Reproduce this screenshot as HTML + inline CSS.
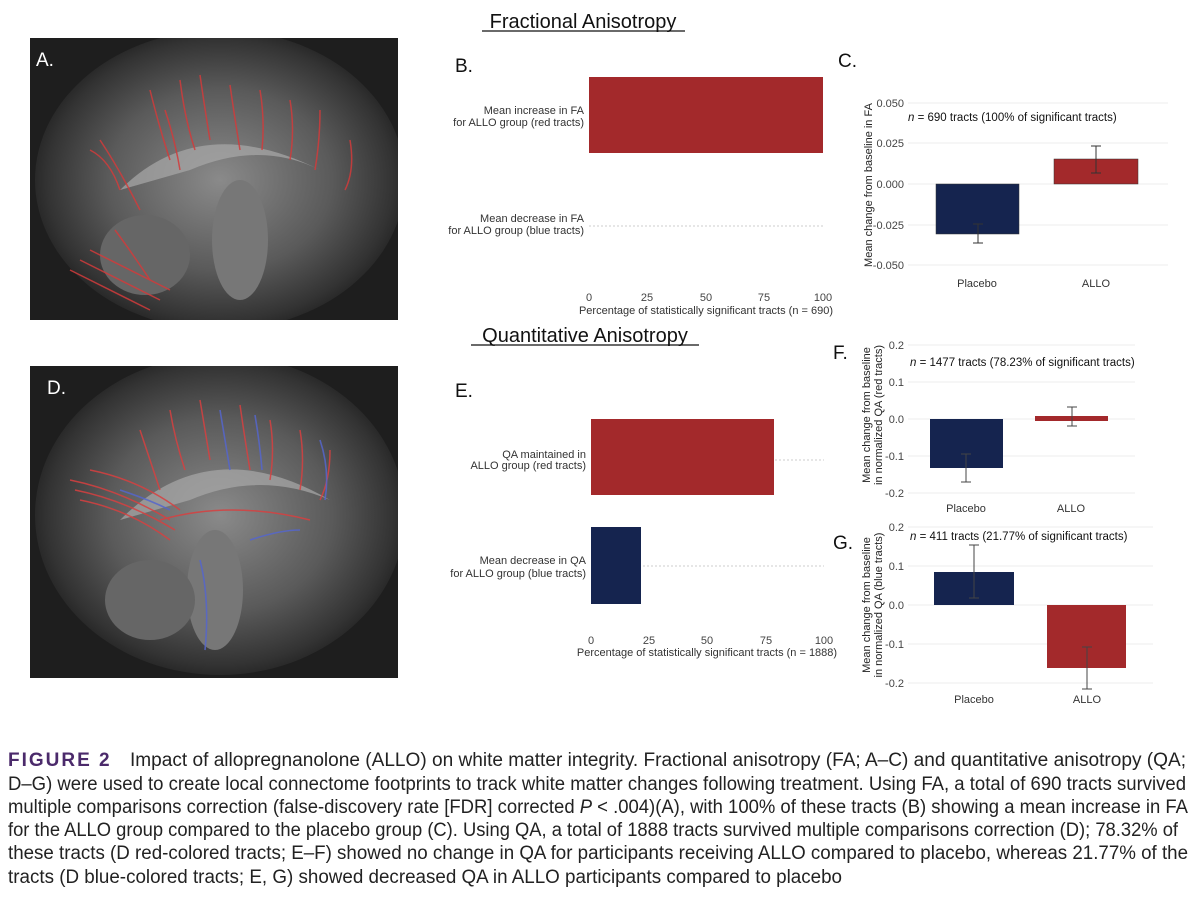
<!DOCTYPE html>
<html><head><meta charset="utf-8"><style>
body{margin:0;background:#fff;width:1200px;height:903px;overflow:hidden}
svg{display:block}
.ax{font-family:"Liberation Sans",sans-serif;font-size:11px;fill:#444}
.lb{font-family:"Liberation Sans",sans-serif;font-size:11px;fill:#333}
.cap{font-family:"Liberation Sans",sans-serif;font-size:19px;fill:#222}
.let{font-family:"Liberation Sans",sans-serif;font-size:19px;fill:#111}
</style></head><body>
<svg width="1200" height="903" viewBox="0 0 1200 903">
<defs>
<radialGradient id="br" cx="0.5" cy="0.5" r="0.55">
<stop offset="0" stop-color="#8a8a8a"/><stop offset="0.55" stop-color="#5a5a5a"/><stop offset="0.85" stop-color="#333"/><stop offset="1" stop-color="#1a1a1a"/>
</radialGradient>
<clipPath id="ca"><rect x="30" y="38" width="368" height="282"/></clipPath>
<clipPath id="cd"><rect x="30" y="366" width="368" height="312"/></clipPath>
</defs>
<!-- Titles -->
<text x="583" y="28" text-anchor="middle" font-family="Liberation Sans,sans-serif" font-size="20" fill="#111">Fractional Anisotropy</text>
<line x1="482" y1="31" x2="685" y2="31" stroke="#111" stroke-width="1.2"/>
<text x="585" y="342" text-anchor="middle" font-family="Liberation Sans,sans-serif" font-size="20" fill="#111">Quantitative Anisotropy</text>
<line x1="471" y1="345" x2="699" y2="345" stroke="#111" stroke-width="1.2"/>

<!-- Brain A -->
<rect x="30" y="38" width="368" height="282" fill="#1e1e1e"/>
<g clip-path="url(#ca)">
<ellipse cx="220" cy="180" rx="185" ry="150" fill="url(#br)"/>
<path d="M120 190 Q200 110 320 170 Q260 140 190 170 Z" fill="#aaa" opacity="0.7"/>
<ellipse cx="240" cy="240" rx="28" ry="60" fill="#777"/>
<ellipse cx="145" cy="255" rx="45" ry="40" fill="#666"/>
<g stroke="#d23b3b" stroke-width="1.5" fill="none" opacity="0.85">
<path d="M100 140 Q120 170 140 210"/><path d="M150 90 Q160 130 170 160"/><path d="M180 80 Q185 120 195 150"/><path d="M200 75 Q205 110 210 140"/><path d="M230 85 Q235 120 240 150"/><path d="M260 90 Q265 120 262 150"/><path d="M290 100 Q295 130 290 160"/><path d="M320 110 Q320 140 315 170"/><path d="M90 150 Q110 160 120 190"/><path d="M80 260 Q120 280 160 300"/><path d="M70 270 Q110 290 150 310"/><path d="M90 250 Q130 270 170 290"/><path d="M115 230 Q130 250 150 280"/><path d="M350 140 Q355 170 345 190"/><path d="M165 110 Q175 140 180 170"/>
</g>
</g>
<text class="let" x="36" y="66" style="fill:#fff">A.</text>

<!-- Brain D -->
<rect x="30" y="366" width="368" height="312" fill="#1e1e1e"/>
<g clip-path="url(#cd)">
<ellipse cx="220" cy="515" rx="185" ry="160" fill="url(#br)"/>
<path d="M120 520 Q210 430 330 500 Q260 470 190 500 Z" fill="#aaa" opacity="0.7"/>
<ellipse cx="215" cy="590" rx="28" ry="60" fill="#777"/>
<ellipse cx="150" cy="600" rx="45" ry="40" fill="#666"/>
<g stroke="#d84040" stroke-width="1.5" fill="none" opacity="0.85">
<path d="M70 480 Q120 490 170 520"/><path d="M75 490 Q125 500 175 530"/><path d="M80 500 Q130 510 170 540"/><path d="M90 470 Q140 480 180 510"/><path d="M140 430 Q150 460 160 490"/><path d="M170 410 Q175 440 185 470"/><path d="M200 400 Q205 430 210 460"/><path d="M240 405 Q245 440 250 470"/><path d="M270 420 Q275 450 270 480"/><path d="M300 430 Q305 460 300 490"/><path d="M330 450 Q330 480 320 500"/><path d="M160 520 Q230 500 310 520"/>
</g>
<g stroke="#5566cc" stroke-width="1.6" fill="none" opacity="0.85">
<path d="M220 410 Q225 440 230 470"/><path d="M255 415 Q260 445 262 470"/><path d="M320 440 Q330 470 325 500"/><path d="M200 560 Q210 600 205 650"/><path d="M250 540 Q280 530 300 530"/><path d="M120 490 Q150 500 170 510"/>
</g>
</g>
<text class="let" x="47" y="394" style="fill:#fff">D.</text>

<!-- Letters -->
<text class="let" x="455" y="72">B.</text>
<text class="let" x="838" y="67">C.</text>
<text class="let" x="455" y="397">E.</text>
<text class="let" x="833" y="359">F.</text>
<text class="let" x="833" y="549">G.</text>

<!-- Panel B -->
<line x1="589" y1="117" x2="823" y2="117" stroke="#ccc" stroke-dasharray="2,2"/>
<line x1="589" y1="226" x2="823" y2="226" stroke="#ccc" stroke-dasharray="2,2"/>
<rect x="589" y="77" width="234" height="76" fill="#a3292b"/>
<g class="lb" text-anchor="end">
<text x="584" y="114">Mean increase in FA</text><text x="584" y="126">for ALLO group (red tracts)</text>
<text x="584" y="222">Mean decrease in FA</text><text x="584" y="234">for ALLO group (blue tracts)</text>
</g>
<g class="ax" text-anchor="middle">
<text x="589" y="301">0</text><text x="647" y="301">25</text><text x="706" y="301">50</text><text x="764" y="301">75</text><text x="823" y="301">100</text>
<text x="706" y="314" style="fill:#333">Percentage of statistically significant tracts (n = 690)</text>
</g>

<!-- Panel E -->
<line x1="591" y1="460" x2="824" y2="460" stroke="#ccc" stroke-dasharray="2,2"/>
<line x1="591" y1="566" x2="824" y2="566" stroke="#ccc" stroke-dasharray="2,2"/>
<rect x="591" y="419" width="183" height="76" fill="#a3292b"/>
<rect x="591" y="527" width="50" height="77" fill="#15244f"/>
<g class="lb" text-anchor="end">
<text x="586" y="458">QA maintained in</text><text x="586" y="469">ALLO group (red tracts)</text>
<text x="586" y="564">Mean decrease in QA</text><text x="586" y="577">for ALLO group (blue tracts)</text>
</g>
<g class="ax" text-anchor="middle">
<text x="591" y="644">0</text><text x="649" y="644">25</text><text x="707" y="644">50</text><text x="766" y="644">75</text><text x="824" y="644">100</text>
<text x="707" y="656" style="fill:#333">Percentage of statistically significant tracts (n = 1888)</text>
</g>

<!-- Panel C -->
<g stroke="#eee"><line x1="908" y1="103" x2="1168" y2="103"/><line x1="908" y1="143" x2="1168" y2="143"/><line x1="908" y1="184" x2="1168" y2="184"/><line x1="908" y1="225" x2="1168" y2="225"/><line x1="908" y1="265" x2="1168" y2="265"/></g>
<g class="ax" text-anchor="end"><text x="904" y="107">0.050</text><text x="904" y="147">0.025</text><text x="904" y="188">0.000</text><text x="904" y="229">-0.025</text><text x="904" y="269">-0.050</text></g>
<rect x="936" y="184" width="83" height="50" fill="#15244f" stroke="#333" stroke-width="0.5"/>
<rect x="1054" y="159" width="84" height="25" fill="#a3292b" stroke="#333" stroke-width="0.5"/>
<g stroke="#333" fill="none"><path d="M978 224V243M973 224h10M973 243h10"/><path d="M1096 146V173M1091 146h10M1091 173h10"/></g>
<text x="908" y="121" font-family="Liberation Sans,sans-serif" font-size="11.5" fill="#111"><tspan font-style="italic">n</tspan> = 690 tracts (100% of significant tracts)</text>
<text class="lb" x="977" y="287" text-anchor="middle" font-size="12">Placebo</text>
<text class="lb" x="1096" y="287" text-anchor="middle" font-size="12">ALLO</text>
<text class="lb" transform="translate(872,185) rotate(-90)" text-anchor="middle" font-size="12" style="fill:#222">Mean change from baseline in FA</text>

<!-- Panel F -->
<g stroke="#eee"><line x1="908" y1="345" x2="1135" y2="345"/><line x1="908" y1="382" x2="1135" y2="382"/><line x1="908" y1="419" x2="1135" y2="419"/><line x1="908" y1="456" x2="1135" y2="456"/><line x1="908" y1="493" x2="1135" y2="493"/></g>
<g class="ax" text-anchor="end" font-size="10"><text x="904" y="349">0.2</text><text x="904" y="386">0.1</text><text x="904" y="423">0.0</text><text x="904" y="460">-0.1</text><text x="904" y="497">-0.2</text></g>
<rect x="930" y="419" width="73" height="49" fill="#15244f"/>
<rect x="1035" y="416" width="73" height="5" fill="#a3292b"/>
<g stroke="#444" fill="none"><path d="M966 454V482M961 454h10M961 482h10"/><path d="M1072 407V426M1067 407h10M1067 426h10"/></g>
<text x="910" y="366" font-family="Liberation Sans,sans-serif" font-size="11.5" fill="#111"><tspan font-style="italic">n</tspan> = 1477 tracts (78.23% of significant tracts)</text>
<text class="lb" x="966" y="512" text-anchor="middle">Placebo</text>
<text class="lb" x="1071" y="512" text-anchor="middle">ALLO</text>
<text class="lb" transform="translate(870,415) rotate(-90)" text-anchor="middle" style="fill:#222">Mean change from baseline</text>
<text class="lb" transform="translate(882,415) rotate(-90)" text-anchor="middle" style="fill:#222">in normalized QA (red tracts)</text>

<!-- Panel G -->
<g stroke="#eee"><line x1="908" y1="527" x2="1153" y2="527"/><line x1="908" y1="566" x2="1153" y2="566"/><line x1="908" y1="605" x2="1153" y2="605"/><line x1="908" y1="644" x2="1153" y2="644"/><line x1="908" y1="683" x2="1153" y2="683"/></g>
<g class="ax" text-anchor="end" font-size="10"><text x="904" y="531">0.2</text><text x="904" y="570">0.1</text><text x="904" y="609">0.0</text><text x="904" y="648">-0.1</text><text x="904" y="687">-0.2</text></g>
<rect x="934" y="572" width="80" height="33" fill="#15244f"/>
<rect x="1047" y="605" width="79" height="63" fill="#a3292b"/>
<g stroke="#444" fill="none"><path d="M974 545V598M969 545h10M969 598h10"/><path d="M1087 647V689M1082 647h10M1082 689h10"/></g>
<text x="910" y="540" font-family="Liberation Sans,sans-serif" font-size="11.5" fill="#111"><tspan font-style="italic">n</tspan> = 411 tracts (21.77% of significant tracts)</text>
<text class="lb" x="974" y="703" text-anchor="middle">Placebo</text>
<text class="lb" x="1087" y="703" text-anchor="middle">ALLO</text>
<text class="lb" transform="translate(870,605) rotate(-90)" text-anchor="middle" style="fill:#222">Mean change from baseline</text>
<text class="lb" transform="translate(882,605) rotate(-90)" text-anchor="middle" style="fill:#222">in normalized QA (blue tracts)</text>

<!-- Caption -->
<text x="8" y="766" font-family="Liberation Sans,sans-serif" font-size="19" font-weight="bold" fill="#4b2a6b" letter-spacing="2">FIGURE 2</text>
<text class="cap" x="130" y="766" textLength="1056" lengthAdjust="spacingAndGlyphs">Impact of allopregnanolone (ALLO) on white matter integrity. Fractional anisotropy (FA; A–C) and quantitative anisotropy (QA;</text>
<text class="cap" x="8" y="790" textLength="1178" lengthAdjust="spacingAndGlyphs">D–G) were used to create local connectome footprints to track white matter changes following treatment. Using FA, a total of 690 tracts survived</text>
<text class="cap" x="8" y="813" textLength="1180" lengthAdjust="spacingAndGlyphs">multiple comparisons correction (false-discovery rate [FDR] corrected <tspan font-style="italic">P</tspan> &lt; .004)(A), with 100% of these tracts (B) showing a mean increase in FA</text>
<text class="cap" x="8" y="836" textLength="1170" lengthAdjust="spacingAndGlyphs">for the ALLO group compared to the placebo group (C). Using QA, a total of 1888 tracts survived multiple comparisons correction (D); 78.32% of</text>
<text class="cap" x="8" y="859" textLength="1180" lengthAdjust="spacingAndGlyphs">these tracts (D red-colored tracts; E–F) showed no change in QA for participants receiving ALLO compared to placebo, whereas 21.77% of the</text>
<text class="cap" x="8" y="883" textLength="834" lengthAdjust="spacingAndGlyphs">tracts (D blue-colored tracts; E, G) showed decreased QA in ALLO participants compared to placebo</text>
</svg>
</body></html>
